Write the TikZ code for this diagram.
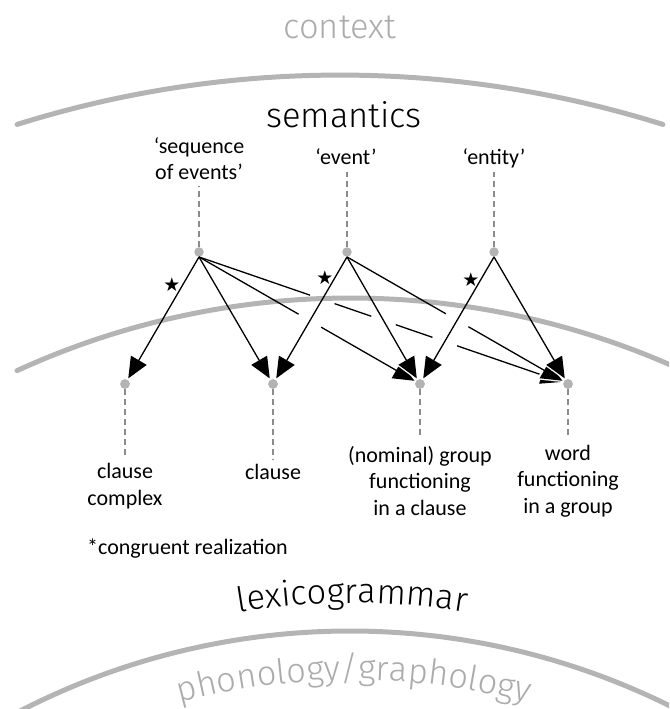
\documentclass[tikz,border=0pt]{standalone}
\usepackage{fontspec}
\setmainfont{Carlito}
\newfontfamily\thinfont{Fira Sans Light}
\newfontfamily\symfont{DejaVu Sans}
\usetikzlibrary{arrows.meta,calc,intersections,decorations.text}

\definecolor{arcgray}{HTML}{B4B4B4}
\definecolor{dotgray}{HTML}{B3B3B3}
\definecolor{dashgray}{HTML}{8C8C8C}
\definecolor{levelgray}{HTML}{ABABAB}

\tikzset{
  stratum/.style={draw=arcgray, line width=5pt, line cap=round},
  dot/.style={circle, fill=dotgray, inner sep=0pt, minimum size=9.5pt},
  tie/.style={draw=dashgray, line width=2.6pt, dash pattern=on 6pt off 4pt},
  label/.style={font=\fontsize{22}{26.5}\selectfont, align=center, inner sep=0pt},
  level/.style={font=\thinfont\fontsize{34.5}{41}\selectfont, inner sep=0pt},
  seg/.style={draw=black, line width=1.3pt},
  realize/.style={draw=black, line width=1.3pt, shorten >=1.5pt,
    -{Triangle[length=21pt,width=18pt]},
    preaction={draw=white, line width=0.1pt, shorten >=-1.5pt,
      -{Triangle[length=26pt,width=23pt]}}},
  star/.style={font=\symfont\fontsize{19}{19}\selectfont, inner sep=0pt},
}

\begin{document}
\begin{tikzpicture}[x=1pt,y=1pt]
\useasboundingbox (0,0) rectangle (669,709);
\clip (0,0) rectangle (669,709);

% strata boundaries
\draw[stratum] ([shift={(340,-446)}]107.4:1080) arc[start angle=107.4, end angle=72.6, radius=1080];
\draw[stratum] ([shift={(350,-389)}]114.6:800) arc[start angle=114.6, end angle=60, radius=800];
\draw[stratum] ([shift={(350,-642)}]122:720) arc[start angle=122, end angle=58, radius=720];

% strata names
\node[level, text=levelgray, anchor=base] (ctx) at (340,670) {context};
\node[level, anchor=base] (sem) at (344,581) {semantics};
\path[decorate, decoration={text along path, text align=center,
  text={|\thinfont\fontsize{34.5}{41}\selectfont|lexicogrammar}}]
  ([shift={(352,-594)}]115:700) arc[start angle=115, end angle=65, radius=700];
\path[decorate, decoration={text along path, text align=center, text color=levelgray,
  text={|\thinfont\fontsize{34.5}{41}\selectfont|phonology/graphology}}]
  ([shift={(354,-642)}]115:671) arc[start angle=115, end angle=65, radius=671];

% semantic categories
\node[dot] (S) at (199,457) {};
\node[dot] (E) at (347,457) {};
\node[dot] (N) at (494,457) {};
\node[label] (seq) at (199,550.5) {‘sequence\\of events’};
\node[label, anchor=base] (ev) at (346,544) {‘event’};
\node[label, anchor=base] (ent) at (494,544) {‘entity’};
\coordinate (Stop) at (199,523);
\coordinate (Etop) at (347,537);
\coordinate (Ntop) at (494,537);
\draw[tie] (S) -- (Stop);
\draw[tie] (E) -- (Etop);
\draw[tie] (N) -- (Ntop);

% grammatical units
\node[dot] (CC) at (125,325) {};
\node[dot] (C) at (273,325) {};
\node[dot] (NG) at (420,325) {};
\node[dot] (W) at (568,325) {};
\node[label] (lcc) at (125,223) {clause\\complex};
\node[label, anchor=base] (lc) at (273,229) {clause};
\node[label] (lng) at (420,228) {(nominal) group\\functioning\\in a clause};
\node[label] (lw) at (568,228) {word\\functioning\\in a group};
\coordinate (CCbot) at (125,253);
\coordinate (Cbot) at (273,249);
\coordinate (NGbot) at (420,271);
\coordinate (Wbot) at (568,271);
\draw[tie] (CC) -- (CCbot);
\draw[tie] (C) -- (Cbot);
\draw[tie] (NG) -- (NGbot);
\draw[tie] (W) -- (Wbot);

\node[label, anchor=base west] (note) at (87,154) {*congruent realization};

% crossings where realization lines pass under others
\path[name path=pEC] (E.south) -- (C.center);
\path[name path=pENG] (E.south) -- (NG.center);
\path[name path=pNNG] (N.south) -- (NG.center);
\path[name path=pSNG] (S.south) -- (NG.center);
\path[name path=pSW] (S.south) -- (W.center);
\path[name path=pEW] (E.south) -- (W.center);
\path[name intersections={of=pSNG and pEC, by=k1}];
\path[name intersections={of=pSW and pEC, by=k2}];
\path[name intersections={of=pSW and pENG, by=k3}];
\path[name intersections={of=pSW and pNNG, by=k4}];
\path[name intersections={of=pEW and pNNG, by=k5}];

% broken realization lines
\draw[seg] (S.south) -- ($(k1)!13pt!(S.south)$);
\draw[realize] ($(k1)!13pt!(NG)$) -- (NG);
\draw[seg] (S.south) -- ($(k2)!13pt!(S.south)$);
\draw[seg] ($(k2)!13pt!(W)$) -- ($(k3)!13pt!(S.south)$);
\draw[seg] ($(k3)!13pt!(W)$) -- ($(k4)!13pt!(S.south)$);
\draw[realize] ($(k4)!13pt!(W)$) -- (W);
\draw[seg] (E.south) -- ($(k5)!13pt!(E.south)$);
\draw[realize] ($(k5)!13pt!(W)$) -- (W);

% unbroken realization lines
\draw[realize] (S.south) -- (CC);
\draw[realize] (S.south) -- (C);
\draw[realize] (E.south) -- (C);
\draw[realize] (E.south) -- (NG);
\draw[realize] (N.south) -- (NG);
\draw[realize] (N.south) -- (W);

% congruent markers
\node[star] (st1) at (172,424) {★};
\node[star] (st2) at (325,431) {★};
\node[star] (st3) at (471,429) {★};

% dots on top of the arrow ends
\node[dot] at (CC) {};
\node[dot] at (C) {};
\node[dot] at (NG) {};
\node[dot] at (W) {};
\end{tikzpicture}
\end{document}
